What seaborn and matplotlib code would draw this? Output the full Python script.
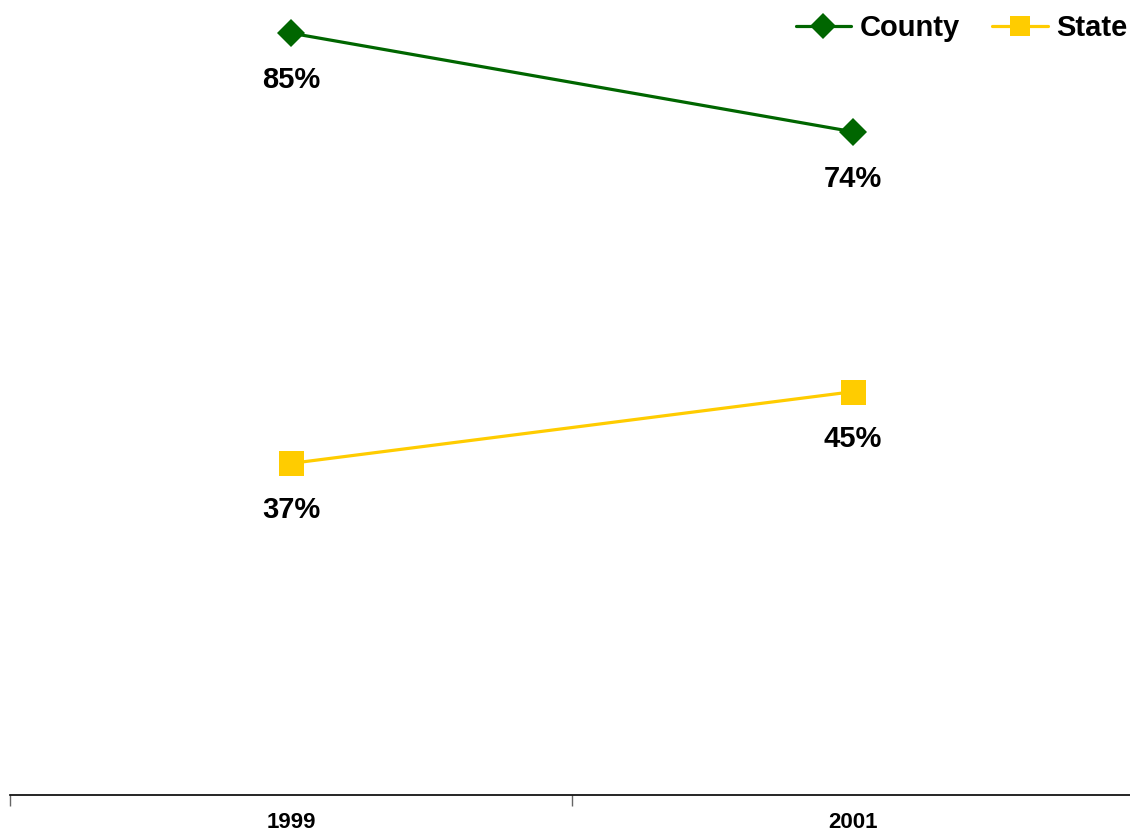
import pandas as pd
import seaborn as sns
import matplotlib.pyplot as plt

years = ["1999", "2001"]
county = [85, 74]
state = [37, 45]

df = pd.DataFrame({
    "Year": years * 2,
    "Value": county + state,
    "Series": ["County"] * 2 + ["State"] * 2,
})

sns.set_style("white")
plt.rcParams["font.family"] = ["Liberation Sans", "DejaVu Sans"]
plt.rcParams["text.color"] = "black"
plt.rcParams["xtick.color"] = "black"

fig = plt.figure(figsize=(11.3, 8.33), dpi=100)
ax = fig.add_axes([10 / 1130, 38 / 833, 1124 / 1130, 795 / 833])

palette = {"County": "#006600", "State": "#FFCC00"}
sns.lineplot(data=df, x="Year", y="Value", hue="Series", style="Series",
             markers={"County": "D", "State": "s"}, dashes=False,
             palette=palette, linewidth=2.3, ax=ax, legend=False)
for line, ms in zip(ax.lines, [14, 18]):
    line.set_markersize(ms)
    line.set_markeredgewidth(0)
    line.set_clip_on(False)

# value labels under each point
for vals in (county, state):
    for i, v in enumerate(vals):
        ax.annotate(f"{v}%", (i, v), xytext=(0, -47), textcoords="offset pixels",
                    ha="center", va="center", fontsize=21, fontweight="bold")

ax.set_xlim(-0.5, 1.5)
ax.set_ylim(0, 88.7)
ax.set_yticks([])
ax.set_xticks([0, 1])
ax.set_xticklabels(years, fontsize=16, fontweight="bold")
ax.set_xticks([-0.5, 0.5, 1.5], minor=True)
ax.tick_params(axis="x", which="major", length=0, pad=12)
ax.tick_params(axis="x", which="minor", length=8, width=1, direction="out",
               bottom=True, color="#666666")
ax.set_xlabel("")
ax.set_ylabel("")
for s in ["top", "right", "left"]:
    ax.spines[s].set_visible(False)
ax.spines["bottom"].set_color("black")
ax.spines["bottom"].set_linewidth(1.2)

handles = [
    plt.Line2D([], [], color="#006600", marker="D", markersize=13, linewidth=2.3, markeredgewidth=0),
    plt.Line2D([], [], color="#FFCC00", marker="s", markersize=15, linewidth=2.3, markeredgewidth=0),
]
leg = fig.legend(handles, ["County", "State"], loc="upper right", ncol=2,
                 bbox_to_anchor=(1.016, 1.008), frameon=False, handlelength=1.9,
                 handletextpad=0.3, columnspacing=1.1, borderaxespad=0.3,
                 prop={"size": 21, "weight": "bold"})

fig.savefig("out.png", dpi=100)
